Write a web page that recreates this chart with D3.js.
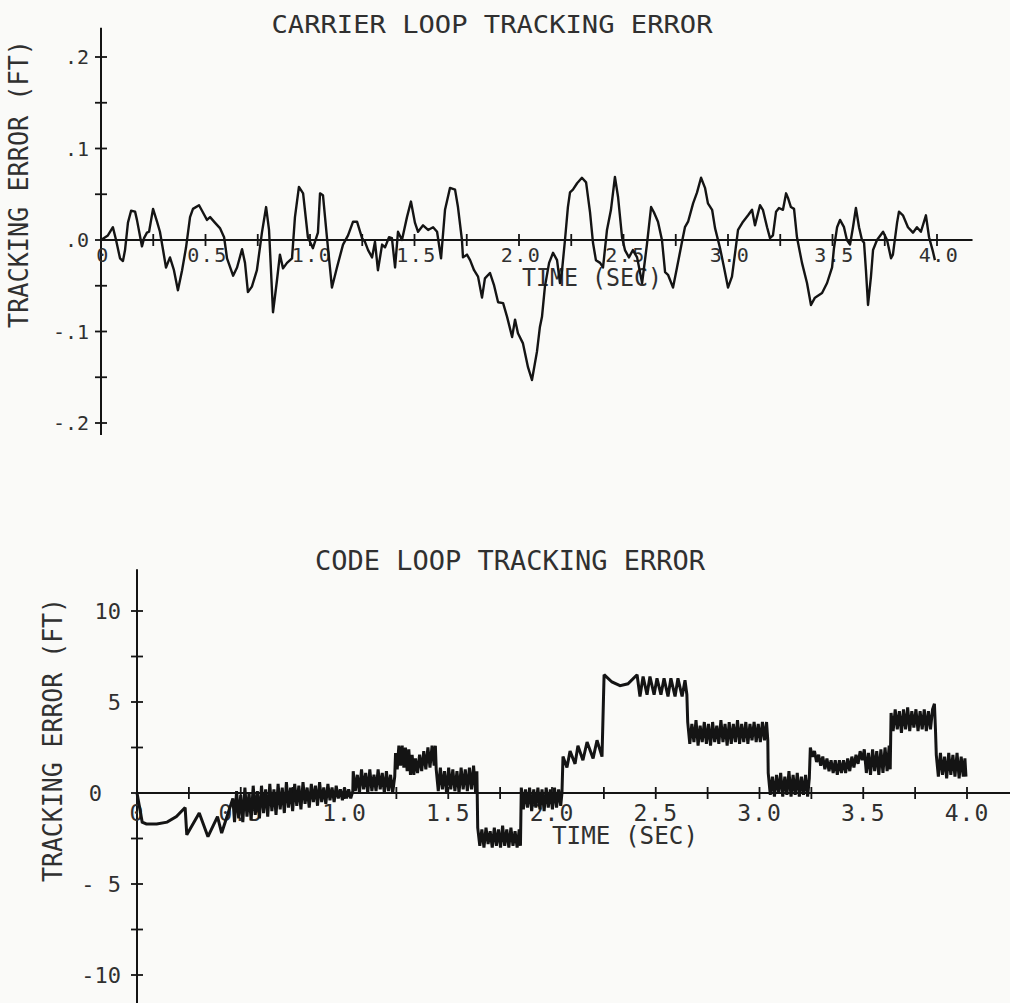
<!DOCTYPE html>
<html>
<head>
<meta charset="utf-8">
<script src="https://cdn.jsdelivr.net/npm/d3@7"></script>
<style>
  html, body { margin: 0; padding: 0; background: #fafaf8; }
  svg { display: block; }
  text { font-family: "DejaVu Sans Mono", monospace; fill: #303030; }
</style>
</head>
<body>
<svg id="chart" width="1010" height="1003"></svg>
<script>
// ---- Titles and axis text ----
const carrierTitle = "CARRIER LOOP TRACKING ERROR";
const codeTitle = "CODE LOOP TRACKING ERROR";
const yAxisTitle = "TRACKING ERROR (FT)";
const xAxisTitle = "TIME (SEC)";

// ---- Tick values and labels ----
const timeTicks = [0, 0.5, 1.0, 1.5, 2.0, 2.5, 3.0, 3.5, 4.0];
const timeTickLabels = ["0", "0.5", "1.0", "1.5", "2.0", "2.5", "3.0", "3.5", "4.0"];
const carrierYTicks = [0.2, 0.1, 0, -0.1, -0.2];
const carrierYTickLabels = [".2", ".1", ".0", "-.1", "-.2"];
const codeYTicks = [10, 5, 0, -5, -10];
const codeYTickLabels = ["10", "5", "0", "- 5", "-10"];

// ---- Carrier loop tracking error: [time (s), error (ft)] ----
const carrierSamples = [
  [0,0],[0.033,0.005],[0.057,0.014],[0.072,0],[0.091,-0.020],[0.105,-0.023],[0.115,-0.011],[0.129,0.019],
  [0.144,0.032],[0.163,0.031],[0.172,0.022],[0.196,-0.007],[0.206,0.002],[0.220,0.008],[0.230,0.009],
  [0.249,0.034],[0.268,0.020],[0.282,0.009],[0.297,-0.011],[0.311,-0.030],[0.330,-0.019],[0.349,-0.033],
  [0.368,-0.055],[0.388,-0.033],[0.407,-0.008],[0.426,0.025],[0.440,0.034],[0.469,0.038],[0.488,0.030],
  [0.507,0.022],[0.522,0.025],[0.545,0.019],[0.569,0.013],[0.589,0.003],[0.603,-0.020],[0.632,-0.039],
  [0.651,-0.030],[0.675,-0.010],[0.689,-0.025],[0.703,-0.057],[0.722,-0.051],[0.746,-0.033],[0.770,0.008],
  [0.790,0.036],[0.804,0.011],[0.823,-0.079],[0.842,-0.044],[0.856,-0.016],[0.871,-0.031],[0.890,-0.025],
  [0.914,-0.020],[0.928,0.025],[0.947,0.058],[0.967,0.051],[0.990,0.003],[1.014,-0.009],[1.038,0.008],
  [1.048,0.051],[1.062,0.049],[1.081,0.003],[1.105,-0.052],[1.129,-0.030],[1.158,-0.005],[1.182,0.005],
  [1.206,0.020],[1.225,0.020],[1.249,0.002],[1.263,-0.002],[1.278,-0.011],[1.297,-0.019],[1.311,-0.002],
  [1.325,-0.033],[1.345,-0.005],[1.359,-0.008],[1.378,0.003],[1.392,0.002],[1.407,-0.030],[1.421,0.009],
  [1.440,0],[1.464,0.025],[1.483,0.042],[1.502,0.019],[1.517,0.009],[1.541,0.016],[1.565,0.011],
  [1.589,0.014],[1.608,0.009],[1.627,-0.020],[1.646,0.033],[1.670,0.057],[1.694,0.055],[1.708,0.036],
  [1.727,0],[1.732,-0.019],[1.751,-0.016],[1.766,-0.022],[1.785,-0.033],[1.804,-0.040],[1.823,-0.063],
  [1.837,-0.042],[1.861,-0.036],[1.880,-0.049],[1.900,-0.068],[1.924,-0.069],[1.943,-0.084],[1.967,-0.106],
  [1.981,-0.087],[1.995,-0.102],[2.019,-0.113],[2.043,-0.139],[2.062,-0.153],[2.086,-0.122],[2.100,-0.095],
  [2.110,-0.084],[2.124,-0.051],[2.144,-0.025],[2.163,-0.014],[2.182,-0.022],[2.196,-0.047],[2.206,-0.033],
  [2.220,0],[2.234,0.036],[2.244,0.052],[2.258,0.055],[2.278,0.062],[2.301,0.068],[2.321,0.063],
  [2.340,0.030],[2.354,-0.003],[2.368,-0.022],[2.388,-0.025],[2.402,-0.030],[2.421,0.011],[2.440,0.033],
  [2.459,0.069],[2.474,0.047],[2.493,0.003],[2.507,-0.011],[2.526,-0.019],[2.545,-0.011],[2.565,-0.019],
  [2.589,-0.047],[2.612,-0.005],[2.632,0.036],[2.646,0.030],[2.665,0.020],[2.684,0],[2.699,-0.035],
  [2.713,-0.038],[2.737,-0.052],[2.756,-0.030],[2.780,-0.002],[2.794,0.014],[2.809,0.020],[2.833,0.040],
  [2.852,0.052],[2.871,0.068],[2.890,0.057],[2.904,0.040],[2.924,0.033],[2.938,0.013],[2.962,-0.009],
  [2.981,-0.030],[3.000,-0.052],[3.019,-0.040],[3.034,-0.014],[3.048,0.011],[3.072,0.020],[3.096,0.027],
  [3.115,0.033],[3.129,0.016],[3.153,0.038],[3.167,0.033],[3.187,0.014],[3.201,0.002],[3.215,0.005],
  [3.230,0.031],[3.244,0.035],[3.263,0.033],[3.278,0.051],[3.287,0.046],[3.301,0.036],[3.316,0.034],
  [3.330,0.003],[3.354,-0.025],[3.378,-0.047],[3.397,-0.071],[3.416,-0.063],[3.450,-0.058],[3.474,-0.047],
  [3.498,-0.030],[3.507,-0.009],[3.522,0.014],[3.536,0.022],[3.555,0.014],[3.569,0],[3.584,-0.005],
  [3.598,0.014],[3.612,0.035],[3.627,0.014],[3.641,0],[3.651,-0.003],[3.660,-0.033],[3.670,-0.071],
  [3.684,-0.040],[3.694,-0.011],[3.713,0],[3.742,0.009],[3.761,0],[3.780,-0.020],[3.789,-0.016],
  [3.809,0.019],[3.818,0.031],[3.837,0.027],[3.861,0.014],[3.885,0.008],[3.904,0.014],[3.923,0.009],
  [3.947,0.027],[3.962,0.003],[3.981,-0.013],[3.990,-0.022]
];

// ---- Code loop tracking error: [time (s), error (ft)] ----
const codeSamples = [
  [0,0],[0.025,-1.6],[0.045,-1.7],[0.095,-1.7],[0.145,-1.6],[0.19,-1.3],[0.232,-0.8],[0.240,-2.3],
  [0.300,-1.1],[0.342,-2.4],[0.388,-1.3],[0.408,-2.2],[0.462,-0.3],
  [0.470,-1.6],[0.480,0.1],[0.490,-1.4],[0.500,-0.1],[0.510,-1.6],[0.520,0.3],[0.530,-1.3],[0.540,0.0],
  [0.550,-1.5],[0.560,0.4],[0.570,-1.2],[0.580,0.1],[0.590,-1.4],[0.600,0.4],[0.610,-1.1],[0.620,0.2],
  [0.630,-1.3],[0.640,0.5],[0.650,-1.0],[0.660,0.2],[0.670,-1.2],[0.680,0.5],[0.690,-0.9],[0.700,0.3],
  [0.710,-1.1],[0.720,0.6],[0.730,-0.8],[0.740,0.3],[0.750,-1.0],[0.760,0.5],[0.770,-0.7],[0.780,0.4],
  [0.790,-0.9],[0.800,0.6],[0.810,-0.6],[0.820,0.3],[0.830,-0.8],[0.840,0.5],[0.850,-0.5],[0.860,0.4],
  [0.870,-0.7],[0.880,0.6],[0.890,-0.5],[0.900,0.3],[0.910,-0.6],[0.920,0.5],[0.930,-0.4],[0.940,0.3],
  [0.950,-0.5],[0.960,0.4],[0.970,-0.3],[0.980,0.2],[0.990,-0.4],[1.000,0.3],[1.010,-0.3],[1.020,0.2],
  [1.030,-0.3],[1.040,0.1],
  [1.042,1.2],[1.052,0.1],[1.062,1.0],[1.072,0.0],[1.082,1.3],[1.092,0.2],[1.102,1.1],[1.112,0.0],
  [1.122,1.3],[1.132,0.1],[1.142,1.0],[1.152,0.1],[1.162,1.3],[1.172,0.2],[1.182,1.1],[1.192,0.0],
  [1.202,1.2],[1.212,0.1],[1.222,1.0],[1.232,0.0],[1.242,0.9],
  [1.246,2.2],[1.254,1.3],[1.262,2.6],[1.270,1.5],[1.278,2.6],[1.286,1.4],[1.294,2.5],[1.302,1.2],
  [1.310,2.4],[1.318,1.0],[1.326,2.1],[1.334,1.0],[1.342,1.9],[1.352,1.1],[1.362,2.1],[1.372,1.2],
  [1.382,2.3],[1.392,1.3],[1.402,2.5],[1.412,1.4],[1.422,2.6],[1.432,1.5],[1.438,2.6],
  [1.442,1.3],[1.452,0.1],[1.462,1.4],[1.472,0.2],[1.482,1.2],[1.492,0.0],[1.502,1.4],[1.512,0.2],
  [1.522,1.3],[1.532,0.1],[1.542,1.2],[1.552,0.0],[1.562,1.4],[1.572,0.2],[1.582,1.3],[1.592,0.1],
  [1.602,1.4],[1.612,0.2],[1.622,1.5],[1.632,0.0],[1.638,1.2],
  [1.642,-1.9],[1.652,-2.9],[1.662,-2.0],[1.672,-3.0],[1.682,-1.9],[1.692,-2.8],[1.702,-2.1],[1.712,-3.0],
  [1.722,-1.9],[1.732,-2.9],[1.742,-2.0],[1.752,-3.0],[1.762,-1.8],[1.772,-2.9],[1.782,-2.0],[1.792,-3.0],
  [1.802,-1.9],[1.812,-2.9],[1.822,-2.1],[1.832,-3.0],[1.842,-2.0],[1.848,-2.9],
  [1.852,0.3],[1.862,-0.9],[1.872,0.2],[1.882,-0.8],[1.892,0.3],[1.902,-1.0],[1.912,0.2],[1.922,-0.8],
  [1.932,0.3],[1.942,-0.9],[1.952,0.2],[1.962,-1.0],[1.972,0.3],[1.982,-0.8],[1.992,0.2],[2.002,-0.9],
  [2.012,0.3],[2.022,-0.8],[2.032,0.2],[2.042,-0.7],
  [2.048,0.0],[2.053,2.0],[2.072,1.4],[2.087,2.3],[2.111,1.6],[2.125,2.6],[2.149,1.8],[2.169,2.8],
  [2.198,1.9],[2.217,2.9],[2.241,2.0],[2.251,6.5],[2.289,6.1],[2.328,5.9],[2.366,6.0],[2.410,6.5],
  [2.424,5.3],[2.439,6.4],[2.458,5.4],[2.472,6.4],[2.492,5.4],[2.506,6.3],[2.525,5.4],[2.540,6.3],
  [2.559,5.3],[2.573,6.3],[2.593,5.3],[2.607,6.3],[2.627,5.3],[2.641,6.2],[2.650,5.4],
  [2.654,3.9],[2.664,2.7],[2.674,3.8],[2.684,2.8],[2.694,4.0],[2.704,2.6],[2.714,3.7],[2.724,2.8],
  [2.734,3.9],[2.744,2.7],[2.754,3.8],[2.764,2.6],[2.774,3.9],[2.784,2.8],[2.794,3.7],[2.804,2.7],
  [2.814,4.0],[2.824,2.8],[2.834,3.8],[2.844,2.6],[2.854,3.9],[2.864,2.7],[2.874,3.8],[2.884,2.8],
  [2.894,4.0],[2.904,2.7],[2.914,3.8],[2.924,2.8],[2.934,3.9],[2.944,2.7],[2.954,3.8],[2.964,2.9],
  [2.974,3.9],[2.984,2.8],[2.994,3.8],[3.004,2.8],[3.014,3.9],[3.024,2.9],[3.034,3.9],[3.040,2.9],
  [3.042,1.1],[3.052,-0.1],[3.062,0.9],[3.072,-0.2],[3.082,1.0],[3.092,0.0],[3.102,1.1],[3.112,-0.2],
  [3.122,0.9],[3.132,-0.1],[3.142,1.2],[3.152,-0.2],[3.162,1.0],[3.172,-0.1],[3.182,1.1],[3.192,-0.2],
  [3.202,0.9],[3.212,-0.1],[3.222,1.0],[3.232,-0.2],[3.240,0.8],
  [3.245,2.5],[3.255,2.0],[3.265,2.3],[3.275,1.7],[3.285,2.1],[3.295,1.5],[3.305,2.0],[3.315,1.3],
  [3.325,1.9],[3.335,1.2],[3.345,1.8],[3.355,1.1],[3.365,1.8],[3.375,1.0],[3.385,1.8],[3.395,1.1],
  [3.405,1.8],[3.415,1.1],[3.425,1.9],[3.435,1.2],[3.445,2.0],[3.455,1.4],[3.465,2.1],[3.475,1.6],
  [3.485,2.3],[3.495,1.8],
  [3.505,2.4],[3.515,1.1],[3.525,2.2],[3.535,1.0],[3.545,2.4],[3.555,1.2],[3.565,2.3],[3.575,1.0],
  [3.585,2.4],[3.595,1.1],[3.605,2.5],[3.615,1.2],[3.625,2.6],[3.630,1.3],
  [3.634,4.4],[3.644,3.4],[3.654,4.6],[3.664,3.5],[3.674,4.5],[3.684,3.3],[3.694,4.6],[3.704,3.5],
  [3.714,4.7],[3.724,3.4],[3.734,4.5],[3.744,3.6],[3.754,4.6],[3.764,3.4],[3.774,4.5],[3.784,3.5],
  [3.794,4.6],[3.804,3.4],[3.814,4.5],[3.824,3.5],[3.834,4.6],[3.843,4.9],[3.848,3.5],
  [3.852,2.1],[3.862,0.9],[3.872,2.2],[3.882,1.0],[3.892,2.0],[3.902,0.8],[3.912,2.2],[3.922,1.0],
  [3.932,2.1],[3.942,0.9],[3.952,2.2],[3.962,0.8],[3.972,2.0],[3.982,0.9],[3.990,1.9],[3.995,0.9]
];

const ink = "#141414";
const svg = d3.select("#chart");

// Panel scales and axis extents
const carrier = {
  x: d3.scaleLinear().domain([0, 4]).range([101, 937]),
  y: d3.scaleLinear().domain([-0.2, 0.2]).range([423, 57]),
  xExtent: [0, 4.17], yExtent: [-0.213, 0.232],
  xMinor: 0.25, yMinor: 0.05
};
const code = {
  x: d3.scaleLinear().domain([0, 4]).range([137, 967]),
  y: d3.scaleLinear().domain([-10, 10]).range([975, 611]),
  xExtent: [0, 4.22], yExtent: [-11.6, 12.3],
  xMinor: 0.25, yMinor: 2.5
};

function drawFrame(p) {
  const g = svg.append("g");
  // axis lines through the origin
  g.append("line")
    .attr("x1", p.x(p.xExtent[0])).attr("x2", p.x(p.xExtent[1]))
    .attr("y1", p.y(0)).attr("y2", p.y(0))
    .attr("stroke", ink).attr("stroke-width", 2);
  g.append("line")
    .attr("x1", p.x(0)).attr("x2", p.x(0))
    .attr("y1", p.y(p.yExtent[0])).attr("y2", p.y(p.yExtent[1]))
    .attr("stroke", ink).attr("stroke-width", 2);
  // tick marks that cross the axes
  const xt = d3.range(0, 4 + 1e-9, p.xMinor);
  g.selectAll(null).data(xt.slice(1)).join("line")
    .attr("x1", d => p.x(d)).attr("x2", d => p.x(d))
    .attr("y1", p.y(0) - 6).attr("y2", p.y(0) + 6)
    .attr("stroke", ink).attr("stroke-width", 1.8);
  const y0 = p.y.domain()[0], y1 = p.y.domain()[1];
  const yt = d3.range(y0, y1 + 1e-9, p.yMinor);
  g.selectAll(null).data(yt).join("line")
    .attr("x1", p.x(0) - 6).attr("x2", p.x(0) + 6)
    .attr("y1", d => p.y(d)).attr("y2", d => p.y(d))
    .attr("stroke", ink).attr("stroke-width", 1.8);
  return g;
}

function addText(g, str, x, y, size, len, rotate) {
  const t = g.append("text")
    .attr("x", x).attr("y", y)
    .attr("font-size", size)
    .attr("text-anchor", "middle")
    .text(str);
  if (len) t.attr("textLength", len).attr("lengthAdjust", "spacingAndGlyphs");
  if (rotate) t.attr("transform", `rotate(-90 ${x} ${y})`);
  return t;
}

// ===== Carrier loop panel =====
const gc = drawFrame(carrier);
addText(gc, carrierTitle, 492, 33, 25, 441);
addText(gc, yAxisTitle, 28, 184, 26, 288, true);
addText(gc, xAxisTitle, 592, 286, 25, 140);
gc.selectAll(null).data(carrierYTicks).join("text")
  .attr("x", 89).attr("y", d => carrier.y(d) + 7)
  .attr("font-size", 20).attr("text-anchor", "end")
  .text((d, i) => carrierYTickLabels[i]);
gc.selectAll(null).data(timeTicks).join("text")
  .attr("x", d => carrier.x(d) + 2).attr("y", carrier.y(0) + 22)
  .attr("font-size", 20).attr("text-anchor", "middle")
  .attr("letter-spacing", 1.5)
  .text((d, i) => timeTickLabels[i]);

gc.append("path")
  .datum(carrierSamples)
  .attr("fill", "none").attr("stroke", ink).attr("stroke-width", 2.4)
  .attr("stroke-linejoin", "round")
  .attr("d", d3.line().x(d => carrier.x(d[0])).y(d => carrier.y(d[1])));

// ===== Code loop panel =====
const gd = drawFrame(code);
addText(gd, codeTitle, 510, 570, 26, 390);
addText(gd, yAxisTitle, 62, 740, 26, 284, true);
addText(gd, xAxisTitle, 625, 844, 25, 146);
gd.selectAll(null).data(codeYTicks).join("text")
  .attr("x", d => d === 0 ? 102 : 121).attr("y", d => code.y(d) + 8)
  .attr("font-size", 22).attr("text-anchor", "end")
  .style("white-space", "pre")
  .text((d, i) => codeYTickLabels[i]);
gd.selectAll(null).data(timeTicks).join("text")
  .attr("x", d => code.x(d)).attr("y", code.y(0) + 28)
  .attr("font-size", 23).attr("text-anchor", "middle")
  .attr("letter-spacing", 1)
  .text((d, i) => timeTickLabels[i]);

gd.append("path")
  .datum(codeSamples)
  .attr("fill", "none").attr("stroke", ink).attr("stroke-width", 3)
  .attr("stroke-linejoin", "miter").attr("stroke-miterlimit", 2)
  .attr("d", d3.line().x(d => code.x(d[0])).y(d => code.y(d[1])));
</script>
</body>
</html>
